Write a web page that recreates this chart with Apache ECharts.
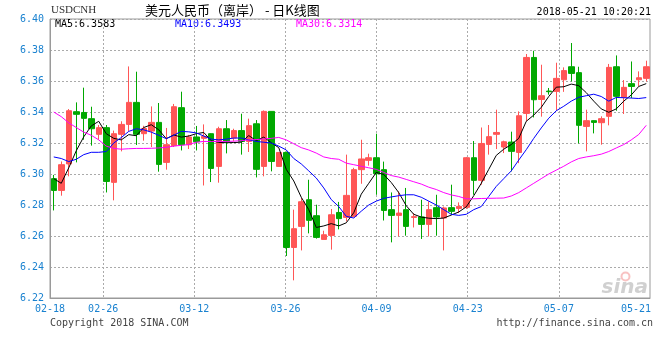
<!DOCTYPE html>
<html>
<head>
<meta charset="utf-8">
<script src="https://cdn.jsdelivr.net/npm/echarts@6/dist/echarts.min.js"></script>
<style>
html,body{margin:0;padding:0;background:#fff;}
#chart{width:660px;height:360px;}
</style>
</head>
<body>
<div id="chart"></div>
<script>
// ---- data ----
const dates = [
 '02-18','02-19','02-20','02-21','02-22','02-23',
 '02-25','02-26','02-27','02-28','03-01','03-02',
 '03-04','03-05','03-06','03-07','03-08','03-09',
 '03-11','03-12','03-13','03-14','03-15','03-16',
 '03-18','03-19','03-20','03-21','03-22','03-23',
 '03-25','03-26','03-27','03-28','03-29','03-30',
 '04-01','04-02','04-03','04-04','04-05','04-06',
 '04-08','04-09','04-10','04-11','04-12','04-13',
 '04-15','04-16','04-17','04-18','04-19','04-20',
 '04-22','04-23','04-24','04-25','04-26','04-27',
 '04-29','04-30','05-01','05-02','05-03','05-04',
 '05-06','05-07','05-08','05-09','05-10','05-11',
 '05-13','05-14','05-15','05-16','05-17','05-18',
 '05-20','05-21'
];
const opens = [
 6.2970,6.2894,6.3065,6.3402,6.3397,6.3357,6.3256,6.3299,6.2946,6.3256,
 6.3320,6.3462,6.3260,6.3277,6.3333,6.3075,6.3183,6.3428,6.3189,6.3239,
 6.3230,6.3260,6.3049,6.3292,6.3232,6.3280,6.3210,6.3324,6.3049,6.3404,
 6.3049,6.3139,6.2526,6.2662,6.2834,6.2731,6.2578,6.2604,6.2752,6.2720,
 6.2727,6.3028,6.3088,6.3105,6.3028,6.2770,6.2733,6.2770,6.2720,6.2723,
 6.2675,6.2783,6.2716,6.2783,6.2778,6.2785,6.3105,6.2959,6.3191,6.3256,
 6.3174,6.3206,6.3139,6.3391,6.3752,6.3481,6.3535,6.3533,6.3608,6.3692,
 6.3654,6.3307,6.3344,6.3331,6.3372,6.3692,6.3494,6.3583,6.3608,6.3617
];
const closes = [
 6.2894,6.3060,6.3408,6.3385,6.3359,6.3292,6.3299,6.2952,6.3260,6.3320,
 6.3462,6.3256,6.3294,6.3333,6.3062,6.3189,6.3434,6.3189,6.3239,6.3208,
 6.3243,6.3036,6.3292,6.3210,6.3280,6.3210,6.3312,6.3030,6.3404,6.3081,
 6.3139,6.2526,6.2647,6.2821,6.2701,6.2591,6.2608,6.2737,6.2712,6.2862,
 6.3028,6.3097,6.3105,6.3002,6.2765,6.2733,6.2748,6.2662,6.2725,6.2675,
 6.2770,6.2723,6.2781,6.2759,6.2791,6.3105,6.2959,6.3197,6.3241,6.3268,
 6.3208,6.3146,6.3376,6.3752,6.3479,6.3505,6.3531,6.3617,6.3667,6.3649,
 6.3314,6.3344,6.3333,6.3357,6.3688,6.3501,6.3559,6.3565,6.3621,6.3692
];
const lows = [
 6.2765,6.2860,6.2985,6.3075,6.3221,6.3183,6.3221,6.2881,6.2830,6.3146,
 6.3275,6.3187,6.3215,6.3174,6.3015,6.3028,6.3174,6.3152,6.3161,6.3152,
 6.2926,6.2948,6.2944,6.3133,6.3210,6.3125,6.3142,6.2978,6.2985,6.3017,
 6.3049,6.2471,6.2314,6.2507,6.2617,6.2583,6.2578,6.2512,6.2643,6.2694,
 6.2720,6.2937,6.3054,6.2866,6.2700,6.2559,6.2597,6.2602,6.2655,6.2581,
 6.2597,6.2602,6.2507,6.2737,6.2748,6.2775,6.2866,6.2931,6.3125,6.3161,
 6.3135,6.3017,6.3070,6.3340,6.3365,6.3370,6.3512,6.3408,6.3530,6.3597,
 6.3197,6.3146,6.3262,6.3189,6.3314,6.3408,6.3387,6.3490,6.3565,6.3597
];
const highs = [
 6.2994,6.3081,6.3419,6.3462,6.3557,6.3434,6.3316,6.3316,6.3280,6.3340,
 6.3694,6.3660,6.3311,6.3436,6.3458,6.3297,6.3452,6.3531,6.3252,6.3310,
 6.3320,6.3262,6.3305,6.3348,6.3292,6.3389,6.3357,6.3348,6.3410,6.3404,
 6.3140,6.3145,6.2770,6.2845,6.2963,6.2802,6.2634,6.2774,6.2820,6.3125,
 6.3040,6.3221,6.3131,6.3260,6.3080,6.2881,6.2888,6.2910,6.2748,6.2834,
 6.2823,6.2866,6.2790,6.2931,6.2817,6.3110,6.3213,6.3300,6.3316,6.3415,
 6.3215,6.3273,6.3404,6.3774,6.3795,6.3705,6.3555,6.3718,6.3688,6.3845,
 6.3692,6.3415,6.3345,6.3372,6.3710,6.3765,6.3606,6.3726,6.3662,6.3731
];
const ma5 = [
 6.2970,6.2940,6.3040,6.3150,6.3240,6.3310,6.3340,6.3260,6.3230,6.3220,
 6.3254,6.3247,6.3300,6.3318,6.3285,6.3228,6.3252,6.3238,6.3245,6.3260,
 6.3268,6.3215,6.3204,6.3202,6.3203,6.3205,6.3248,6.3215,6.3238,6.3202,
 6.3170,6.3030,6.2955,6.2850,6.2770,6.2655,6.2665,6.2680,6.2665,6.2685,
 6.2750,6.2870,6.2940,6.3010,6.2997,6.2945,6.2880,6.2795,6.2740,6.2722,
 6.2715,6.2712,6.2716,6.2735,6.2755,6.2788,6.2860,6.2940,6.3030,6.3120,
 6.3160,6.3190,6.3230,6.3340,6.3380,6.3430,6.3500,6.3560,6.3563,6.3580,
 6.3570,6.3525,6.3470,6.3420,6.3398,6.3420,6.3470,6.3510,6.3565,6.3583
];
const ma10 = [
 6.3110,6.3100,6.3080,6.3095,6.3125,6.3140,6.3140,6.3145,6.3200,6.3235,
 6.3275,6.3292,6.3285,6.3270,6.3250,6.3228,6.3250,6.3275,6.3272,6.3265,
 6.3245,6.3225,6.3220,6.3225,6.3232,6.3232,6.3220,6.3210,6.3205,6.3200,
 6.3180,6.3155,6.3100,6.3065,6.3020,6.2974,6.2910,6.2835,6.2790,6.2727,
 6.2716,6.2760,6.2800,6.2825,6.2843,6.2852,6.2860,6.2866,6.2866,6.2850,
 6.2825,6.2800,6.2770,6.2740,6.2733,6.2740,6.2770,6.2790,6.2855,6.2920,
 6.2970,6.3020,6.3090,6.3157,6.3230,6.3297,6.3360,6.3408,6.3437,6.3470,
 6.3495,6.3505,6.3515,6.3500,6.3470,6.3494,6.3492,6.3490,6.3487,6.3493
];
const ma30 = [
 6.3400,6.3370,6.3330,6.3300,6.3270,6.3250,6.3220,6.3180,6.3165,6.3160,
 6.3163,6.3165,6.3165,6.3166,6.3168,6.3172,6.3180,6.3185,6.3190,6.3205,
 6.3210,6.3210,6.3210,6.3210,6.3212,6.3215,6.3220,6.3222,6.3226,6.3230,
 6.3236,6.3220,6.3195,6.3170,6.3155,6.3135,6.3110,6.3100,6.3095,6.3070,
 6.3060,6.3050,6.3040,6.3030,6.3010,6.2990,6.2980,6.2965,6.2950,6.2935,
 6.2915,6.2900,6.2880,6.2865,6.2855,6.2840,6.2840,6.2842,6.2843,6.2844,
 6.2845,6.2858,6.2880,6.2910,6.2940,6.2970,6.3000,6.3025,6.3050,6.3078,
 6.3100,6.3110,6.3118,6.3128,6.3145,6.3168,6.3190,6.3220,6.3255,6.3314
];
const labelDates = ['02-18','02-26','03-12','03-26','04-09','04-23','05-07','05-21'];
const gridDates = ['02-26','03-12','03-26','04-09','04-23','05-07'];
const yMin = 6.22, yMax = 6.40, yStep = 0.02;

// ---- chart ----
const candles = dates.map((d, i) => [opens[i], closes[i], lows[i], highs[i]]);
const labelIdx = labelDates.map(d => dates.indexOf(d));
const gridIdx = gridDates.map(d => dates.indexOf(d));
const mono = "'DejaVu Sans Mono', 'Liberation Mono', monospace";
const blueLabel = '#1a82d0';
const lastIdx = dates.length - 1;

const chart = echarts.init(document.getElementById('chart'), null, {renderer: 'canvas'});
chart.setOption({
  animation: false,
  backgroundColor: '#ffffff',
  grid: {left: 50, right: 10, top: 19, bottom: 62, show: true, borderColor: '#9a9a9a', borderWidth: 1, backgroundColor: 'transparent'},
  xAxis: [
    {
      type: 'category', data: dates, boundaryGap: true, position: 'top',
      axisLine: {show: false}, axisTick: {show: false}, axisLabel: {show: false}, splitLine: {show: false}
    },
    {
      type: 'category', data: dates, boundaryGap: false, position: 'bottom',
      axisLine: {show: true, lineStyle: {color: '#9a9a9a', width: 1}},
      axisTick: {show: false},
      axisLabel: {
        interval: (idx) => labelIdx.indexOf(idx) >= 0,
        color: blueLabel, fontFamily: mono, fontSize: 10, margin: 6,
        formatter: (v, idx) => idx === lastIdx ? '{r|' + v + '}' : v,
        rich: {r: {color: blueLabel, fontFamily: mono, fontSize: 10, padding: [0, 28, 0, 0]}}
      },
      splitLine: {show: true, interval: (idx) => gridIdx.indexOf(idx) >= 0, lineStyle: {color: '#aaaaaa', type: [2, 2], width: 1}}
    }
  ],
  yAxis: {
    type: 'value', min: yMin, max: yMax, interval: yStep,
    axisLine: {show: true, lineStyle: {color: '#9a9a9a', width: 1}},
    axisTick: {show: false},
    axisLabel: {color: blueLabel, fontFamily: mono, fontSize: 10, margin: 6, formatter: v => v.toFixed(2)},
    splitLine: {show: true, lineStyle: {color: '#aaaaaa', type: [2, 2], width: 1}}
  },
  series: [
    {
      type: 'candlestick', xAxisIndex: 0, data: candles, barWidth: 6,
      itemStyle: {color: '#ff5656', color0: '#00a800', borderColor: '#ff5656', borderColor0: '#00a800', borderWidth: 1}
    },
    {type: 'line', xAxisIndex: 0, data: ma5, symbol: 'none', lineStyle: {color: '#000000', width: 1}, z: 3},
    {type: 'line', xAxisIndex: 0, data: ma10, symbol: 'none', lineStyle: {color: '#0000ff', width: 1}, z: 3},
    {type: 'line', xAxisIndex: 0, data: ma30, symbol: 'none', lineStyle: {color: '#ff00ff', width: 1}, z: 3}
  ],
  graphic: [
    {type: 'text', left: 51, top: 5, style: {text: 'USDCNH', fill: '#333', font: "11px 'Liberation Serif', serif"}},
    {type: 'text', left: 145, top: 4, style: {text: '美元人民币（离岸） - 日K线图', fill: '#000', font: "13px 'Noto Sans CJK SC'"}},
    {type: 'text', right: 9, top: 7, style: {text: '2018-05-21 10:20:21', fill: '#000', font: '10px ' + mono}},
    {type: 'text', left: 55, top: 19, style: {text: 'MA5:' + ma5[lastIdx].toFixed(4), fill: '#000', font: '10px ' + mono}},
    {type: 'text', left: 175, top: 19, style: {text: 'MA10:' + ma10[lastIdx].toFixed(4), fill: '#0000ff', font: '10px ' + mono}},
    {type: 'text', left: 296, top: 19, style: {text: 'MA30:' + ma30[lastIdx].toFixed(4), fill: '#ff00ff', font: '10px ' + mono}},
    {type: 'text', left: 50, top: 318, style: {text: 'Copyright 2018 SINA.COM', fill: '#444', font: '10px ' + mono}},
    {type: 'text', right: 7, top: 318, style: {text: 'http://finance.sina.com.cn', fill: '#444', font: '10px ' + mono}},
    {type: 'text', right: 12, top: 278, z: 0, style: {text: 'sina', fill: 'rgba(150,150,150,0.45)', font: "italic bold 20px 'DejaVu Sans'"}},
    {type: 'circle', right: 28, top: 270, z: 0, shape: {r: 4}, style: {fill: 'none', stroke: 'rgba(240,120,120,0.45)', lineWidth: 2}}
  ]
});
</script>
</body>
</html>
